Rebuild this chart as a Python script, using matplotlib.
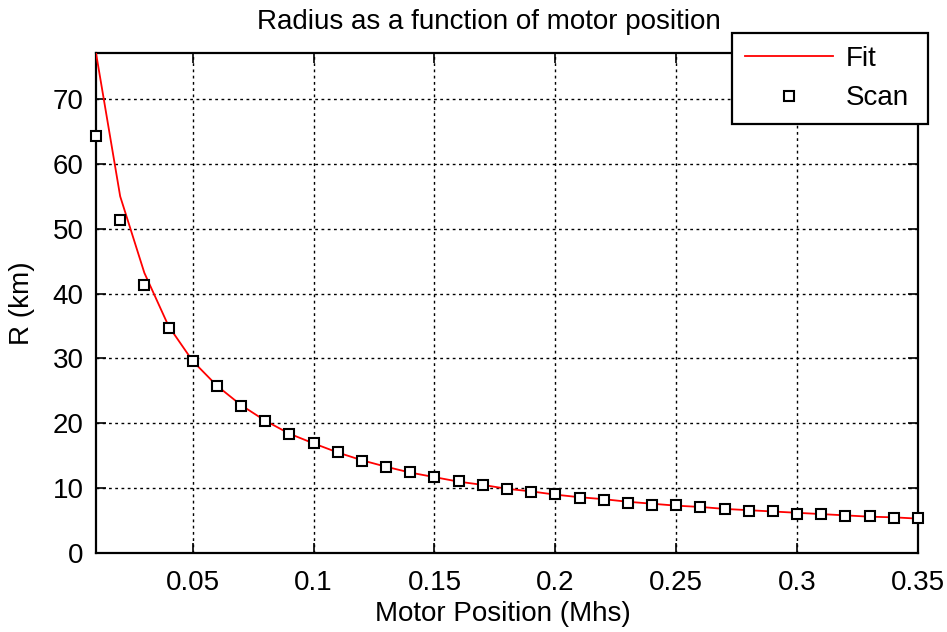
import matplotlib
matplotlib.use("Agg")
import matplotlib.pyplot as plt
import numpy as np

plt.rcParams['font.family'] = ['Liberation Sans', 'DejaVu Sans']

motor_pos = [0.01, 0.02, 0.03, 0.04, 0.05, 0.06, 0.07, 0.08, 0.09, 0.10,
             0.11, 0.12, 0.13, 0.14, 0.15, 0.16, 0.17, 0.18, 0.19, 0.20,
             0.21, 0.22, 0.23, 0.24, 0.25, 0.26, 0.27, 0.28, 0.29, 0.30,
             0.31, 0.32, 0.33, 0.34, 0.35]
scan_r = [64.3, 51.3, 41.3, 34.7, 29.6, 25.7, 22.7, 20.4, 18.3, 16.9,
          15.6, 14.2, 13.3, 12.5, 11.7, 11.1, 10.5, 9.9, 9.4, 9.1,
          8.5, 8.2, 7.7, 7.4, 7.4, 7.1, 6.8, 6.5, 6.5, 6.0,
          6.0, 5.7, 5.7, 5.4, 5.4]
fit_r = [77.1, 55.0, 43.2, 35.0, 29.6, 25.8, 22.8, 20.4, 18.4, 16.9,
         15.5, 14.3, 13.3, 12.4, 11.7, 11.0, 10.5, 9.9, 9.5, 9.0,
         8.6, 8.3, 7.9, 7.6, 7.3, 7.1, 6.8, 6.6, 6.4, 6.2,
         6.0, 5.8, 5.6, 5.5, 5.3]
x_ticks = [0.05, 0.1, 0.15, 0.2, 0.25, 0.3, 0.35]
x_tick_labels = ['0.05', '0.1', '0.15', '0.2', '0.25', '0.3', '0.35']
y_ticks = [0, 10, 20, 30, 40, 50, 60, 70]

FS = 20

fig = plt.figure(figsize=(9.47, 6.32), dpi=100)
ax = fig.add_axes([96/947, 1-553/632, (918-96)/947, (553-53)/632])

ax.plot(motor_pos, fit_r, color='red', lw=1.3, label='Fit', zorder=3)
ax.plot(motor_pos, scan_r, ls='none', marker='s', ms=7.5, mfc='white',
        mec='black', mew=1.5, label='Scan', zorder=4, clip_on=False)

ax.set_xlim(0.01, 0.35)
ax.set_ylim(0, 77.1)
ax.set_xticks(x_ticks)
ax.set_xticklabels(x_tick_labels)
ax.set_yticks(y_ticks)

ax.grid(True, color='black', ls=(0, (2, 2.5)), lw=1.0)
for s in ax.spines.values():
    s.set_linewidth(1.6)
    s.set_color('black')
ax.tick_params(direction='in', length=7, width=1.2, labelsize=FS,
               top=True, right=True, colors='black')
ax.tick_params(axis='y', pad=9)
ax.tick_params(axis='x', pad=12)

fig.text(503/947, 1-614/632, 'Motor Position (Mhs)', ha='center',
         va='center', fontsize=FS)
fig.text(22/947, 1-303/632, 'R (km)', ha='center', va='center',
         rotation=90, fontsize=FS)
fig.text(489/947, 1-22/632, 'Radius as a function of motor position',
         ha='center', va='center', fontsize=FS)

leg = fig.legend(loc='upper left',
                 bbox_to_anchor=(732/947, 1-126/632, 196/947, 93/632),
                 bbox_transform=fig.transFigure, mode='expand',
                 fontsize=FS, numpoints=1, handlelength=3.2,
                 fancybox=False, framealpha=1, edgecolor='black',
                 borderpad=0.45, labelspacing=0.5, handletextpad=0.45,
                 borderaxespad=0)
leg.get_frame().set_linewidth(1.6)
leg.set_zorder(10)

fig.savefig('out.png', dpi=100)
